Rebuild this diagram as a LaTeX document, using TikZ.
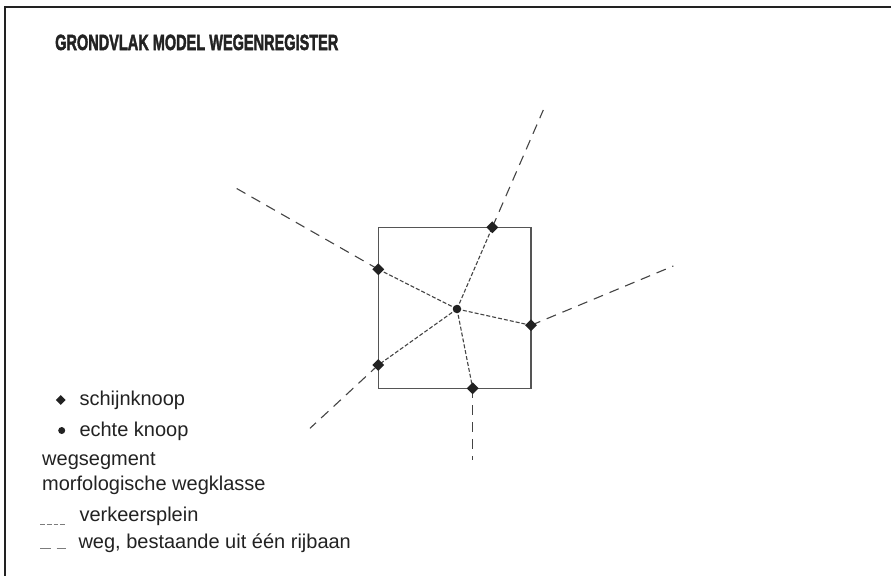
\documentclass[tikz,border=0pt]{standalone}
\usepackage{fontspec}
\setmainfont{Liberation Sans}
\newfontfamily\titlefont[FakeBold=2.5]{Liberation Sans Bold}
\usetikzlibrary{shapes.geometric,backgrounds}
\definecolor{ink}{HTML}{222222}
\definecolor{linegray}{HTML}{444444}
\definecolor{boxgray}{HTML}{555555}
\tikzset{
  diam/.style={diamond,fill=ink,inner sep=0pt,minimum size=12pt},
  smalldiam/.style={diamond,fill=ink,inner sep=0pt,minimum size=10pt},
  dotmark/.style={circle,fill=ink,inner sep=0pt,minimum size=8.5pt},
  smalldot/.style={circle,fill=ink,inner sep=0pt,minimum size=7pt},
  plein/.style={draw=linegray,line width=1.1pt,dash pattern=on 4pt off 2pt},
  weg/.style={draw=linegray,line width=1.1pt,dash pattern=on 10pt off 7pt},
  legtext/.style={anchor=base west,inner sep=0pt,text=ink,font=\fontsize{20}{24}\selectfont},
  frameline/.style={draw=ink,line width=2pt},
}
\begin{document}
\begin{tikzpicture}[x=1pt,y=-1pt]
\useasboundingbox (0,0) rectangle (891,576);
% frame (only top and left edges visible)
\coordinate (fTL) at (5,6.5);
\coordinate (fTR) at (891,6.5);
\coordinate (fBL) at (5,576);
\draw[frameline] (fTR) -- (fTL) -- (fBL);
% title
\node[anchor=base west,inner sep=0pt,text=ink] (title) at (55,50)
  {\scalebox{0.66}[1]{\fontsize{22}{26}\titlefont GRONDVLAK MODEL WEGENREGISTER}};
% square
\coordinate (sqTL) at (378.3,227.3);
\coordinate (sqBR) at (531,388.3);
\draw[boxgray,line width=1.2pt] (sqTL) rectangle (sqBR);
% nodes
\node[diam] (nT) at (492.3,227.3) {};
\node[diam] (nLU) at (378.3,269.3) {};
\node[diam] (nR) at (531,325.3) {};
\node[diam] (nLL) at (378.3,365) {};
\node[diam] (nB) at (472.7,388.3) {};
\node[dotmark] (nC) at (457,309) {};
% outer free ends
\coordinate (eT) at (543.3,110);
\coordinate (eLU) at (232.3,186);
\coordinate (eR) at (673.3,266);
\coordinate (eLL) at (310,428.3);
\coordinate (eB) at (472.7,460);
\begin{scope}[on background layer]
\fill[white] (0,0) rectangle (891,576);
\draw[plein] (nC.center) -- (nT.center);
\draw[plein] (nC.center) -- (nLU.center);
\draw[plein] (nC.center) -- (nR.center);
\draw[plein] (nC.center) -- (nLL.center);
\draw[plein] (nC.center) -- (nB.center);
\draw[weg] (nT.center) -- (eT);
\draw[weg] (nLU.center) -- (eLU);
\draw[weg] (nR.center) -- (eR);
\draw[weg] (nLL.center) -- (eLL);
\draw[weg] (nB.center) -- (eB);
\end{scope}
% legend
\node[smalldiam] (lgD) at (60.7,400) {};
\node[legtext] (t1) at (79.3,405.7) {schijnknoop};
\node[smalldot] (lgC) at (61.7,430.5) {};
\node[legtext] (t2) at (79.3,436.5) {echte knoop};
\node[legtext] (t3) at (42,465.7) {wegsegment};
\node[legtext] (t4) at (42,490) {morfologische wegklasse};
\coordinate (lp1) at (40,524.5);
\coordinate (lp2) at (67,524.5);
\draw[draw=linegray!70,line width=1pt,dash pattern=on 4.8pt off 2pt] (lp1) -- (lp2);
\node[legtext] (t5) at (79.3,521.5) {verkeersplein};
\coordinate (lw1) at (40,548);
\coordinate (lw2) at (66,548);
\draw[draw=linegray!70,line width=1pt,dash pattern=on 10.5pt off 6pt] (lw1) -- (lw2);
\node[legtext] (t6) at (78.3,548) {weg, bestaande uit één rijbaan};
\end{tikzpicture}
\end{document}
